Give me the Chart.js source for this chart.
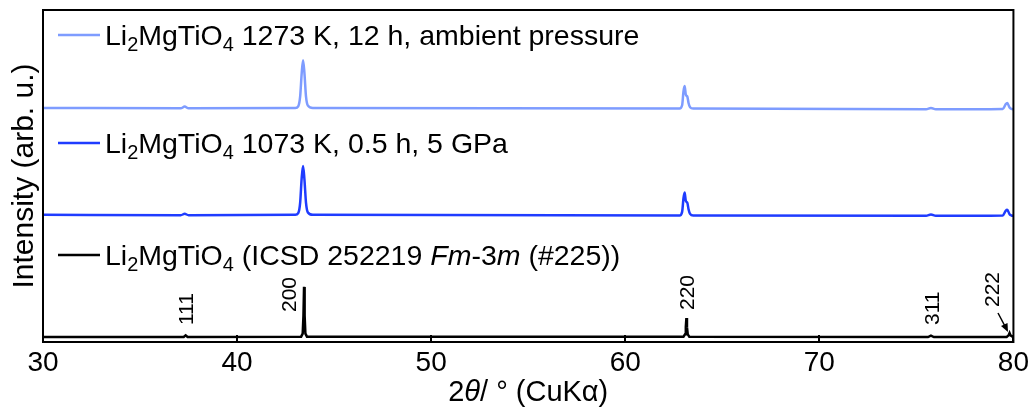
<!DOCTYPE html>
<html>
<head>
<meta charset="utf-8">
<script src="https://cdn.jsdelivr.net/npm/chart.js@4/dist/chart.umd.min.js"></script>
<style>
html,body{margin:0;padding:0;background:#fff;}
canvas{display:block;}
</style>
</head>
<body>
<canvas id="c" width="1033" height="408"></canvas>
<script>
// ---- data ----
const seriesNames = [
  'Li_2MgTiO_4 1273 K, 12 h, ambient pressure',
  'Li_2MgTiO_4 1073 K, 0.5 h, 5 GPa',
  'Li_2MgTiO_4 (ICSD 252219 *Fm*-3*m* (#225))'
];
const xTicks = [30, 40, 50, 60, 70, 80];

const ambientX = [30, 37.1, 37.3, 37.5, 43.0, 43.15, 43.25, 43.33, 43.4, 43.47, 43.55, 43.65, 43.9, 62.8, 62.93, 63.0, 63.06, 63.12, 63.2, 63.26, 63.34, 63.5, 75.5, 75.75, 76.0, 79.45, 79.6, 79.68, 79.8, 79.9, 80];
const ambientY = [70.5, 70.4, 70.9, 70.4, 70.5, 71.0, 74, 81, 84.9, 81, 74, 71.2, 70.5, 70.3, 71.3, 75.5, 77.1, 74.5, 73.9, 72, 70.7, 70.3, 70.1, 70.5, 70.1, 70.2, 71.6, 72, 70.6, 70.2, 70.1];

const gpaX = [30, 37.1, 37.3, 37.5, 43.0, 43.15, 43.25, 43.33, 43.4, 43.47, 43.55, 43.65, 43.9, 62.8, 62.93, 63.0, 63.06, 63.12, 63.2, 63.26, 63.34, 63.5, 75.5, 75.75, 76.0, 79.45, 79.6, 79.68, 79.8, 79.9, 80];
const gpaY = [38.3, 38.2, 38.6, 38.2, 38.3, 38.8, 42, 49.5, 53, 49, 42, 39, 38.3, 38.1, 39.2, 43.3, 45.0, 42.5, 41.9, 40, 38.6, 38.1, 38.0, 38.4, 38.0, 38.1, 39.5, 39.8, 38.5, 38.1, 38.0];

const refX = [30, 37.25, 37.35, 37.45, 43.3, 43.38, 43.42, 43.45, 43.48, 43.52, 43.6, 63.0, 63.08, 63.12, 63.15, 63.18, 63.22, 63.3, 75.6, 75.75, 75.9, 79.65, 79.75, 79.8, 79.85, 79.95, 80];
const refY = [1.5, 1.5, 2.0, 1.5, 1.6, 2.5, 8, 16.6, 8, 2.5, 1.6, 1.6, 2.3, 4.5, 7.2, 4.5, 2.3, 1.6, 1.5, 1.9, 1.5, 1.5, 2.0, 2.7, 2.0, 1.6, 1.5];

const hklLabels = ['111', '200', '220', '311', '222'];
const hklLabelX = [37.36, 42.67, 63.16, 75.83, 78.92];

const colors = ['#7e9cff', '#1f3cff', '#000000'];

// ---- helpers ----
const FONT = "'Liberation Sans', Arial, Helvetica, sans-serif";
function parseRuns(s){
  const runs=[]; let italic=false; let i=0; let buf='';
  const flush=()=>{ if(buf){runs.push({t:buf,sub:false,italic}); buf='';} };
  while(i<s.length){
    const c=s[i];
    if(c==='*'){ flush(); italic=!italic; i++; continue; }
    if(c==='_'){ flush(); runs.push({t:s[i+1],sub:true,italic}); i+=2; continue; }
    buf+=c; i++;
  }
  flush();
  return runs;
}
function runsWidth(ctx, runs, size){
  let w=0;
  for(const r of runs){
    const fs = r.sub ? size*0.7 : size;
    ctx.font = (r.italic?'italic ':'') + fs + 'px ' + FONT;
    w += ctx.measureText(r.t).width;
  }
  return w;
}
function drawRuns(ctx, runs, x, y, size){
  ctx.textBaseline='alphabetic';
  ctx.textAlign='left';
  for(const r of runs){
    const fs = r.sub ? size*0.7 : size;
    ctx.font = (r.italic?'italic ':'') + fs + 'px ' + FONT;
    ctx.fillText(r.t, x, y + (r.sub ? size*0.22 : 0));
    x += ctx.measureText(r.t).width;
  }
}

const annot = {
  id: 'annot',
  afterDraw(chart){
    const {ctx, chartArea:a, scales:{x}} = chart;
    ctx.save();
    ctx.fillStyle='#000';
    ctx.strokeStyle='#000';
    // frame
    ctx.lineWidth=2;
    ctx.strokeRect(a.left, a.top, a.right-a.left, a.bottom-a.top);
    // inward ticks
    for(const t of xTicks){
      const px = Math.round(x.getPixelForValue(t));
      ctx.beginPath(); ctx.moveTo(px, a.bottom); ctx.lineTo(px, a.bottom-7); ctx.stroke();
    }
    // legends
    const legY = [35, 143, 255];
    seriesNames.forEach((n,i)=>{
      ctx.strokeStyle = colors[i];
      ctx.lineWidth = 2.5;
      ctx.beginPath(); ctx.moveTo(58, legY[i]); ctx.lineTo(100, legY[i]); ctx.stroke();
      ctx.fillStyle = '#000';
      drawRuns(ctx, parseRuns(n), 105, legY[i]+10, 28.5);
    });
    // hkl labels
    const labBottom = [325, 312, 310, 325, 307];
    ctx.fillStyle='#000';
    ctx.font = '21px ' + FONT;
    hklLabels.forEach((l,i)=>{
      const px = x.getPixelForValue(hklLabelX[i]);
      ctx.save();
      ctx.translate(px+7, labBottom[i]);
      ctx.rotate(-Math.PI/2);
      ctx.textAlign='left'; ctx.textBaseline='alphabetic';
      ctx.fillText(l, 0, 0);
      ctx.restore();
    });
    // arrow to 222
    ctx.strokeStyle='#000'; ctx.lineWidth=1.5;
    ctx.beginPath(); ctx.moveTo(998, 313); ctx.lineTo(1007, 330); ctx.stroke();
    ctx.beginPath(); ctx.moveTo(1008, 332); ctx.lineTo(1001, 326); ctx.lineTo(1007.5, 323); ctx.closePath(); ctx.fill();
    // x title
    const xr = parseRuns('2*θ*/ ° (CuKα)');
    const w = runsWidth(ctx, xr, 29);
    drawRuns(ctx, xr, (a.left+a.right)/2 - w/2, 401, 29);
    // y title
    ctx.save();
    ctx.translate(33, (a.top+a.bottom)/2);
    ctx.rotate(-Math.PI/2);
    ctx.font = '30px ' + FONT;
    ctx.textAlign='center'; ctx.textBaseline='alphabetic';
    ctx.fillText('Intensity (arb. u.)', 0, 0);
    ctx.restore();
    ctx.restore();
  }
};

const mk = (xs, ys) => xs.map((v,i)=>({x:v, y:ys[i]}));
new Chart(document.getElementById('c'), {
  type: 'line',
  data: {
    datasets: [
      {label: seriesNames[0], data: mk(ambientX, ambientY), borderColor: colors[0], borderWidth: 2.5, pointRadius: 0, cubicInterpolationMode: 'monotone'},
      {label: seriesNames[1], data: mk(gpaX, gpaY), borderColor: colors[1], borderWidth: 2.5, pointRadius: 0, cubicInterpolationMode: 'monotone'},
      {label: seriesNames[2], data: mk(refX, refY), borderColor: colors[2], borderWidth: 2.5, pointRadius: 0, tension: 0}
    ]
  },
  options: {
    responsive: false,
    animation: false,
    devicePixelRatio: 1,
    layout: {padding: {top: 10, right: 19, left: 0, bottom: 0}},
    plugins: {legend: {display: false}, tooltip: {enabled: false}},
    scales: {
      x: {
        type: 'linear', min: 30, max: 80,
        afterBuildTicks: s => { s.ticks = xTicks.map(v=>({value:v})); },
        ticks: {font: {size: 28, family: FONT}, color: '#000', padding: 4, maxRotation: 0},
        grid: {display: false, drawTicks: false},
        border: {display: false},
        afterFit: s => { s.height = 66; }
      },
      y: {
        min: 0, max: 100,
        ticks: {display: false},
        grid: {display: false, drawTicks: false},
        border: {display: false},
        afterFit: s => { s.width = 43; }
      }
    }
  },
  plugins: [annot]
});
</script>
</body>
</html>
